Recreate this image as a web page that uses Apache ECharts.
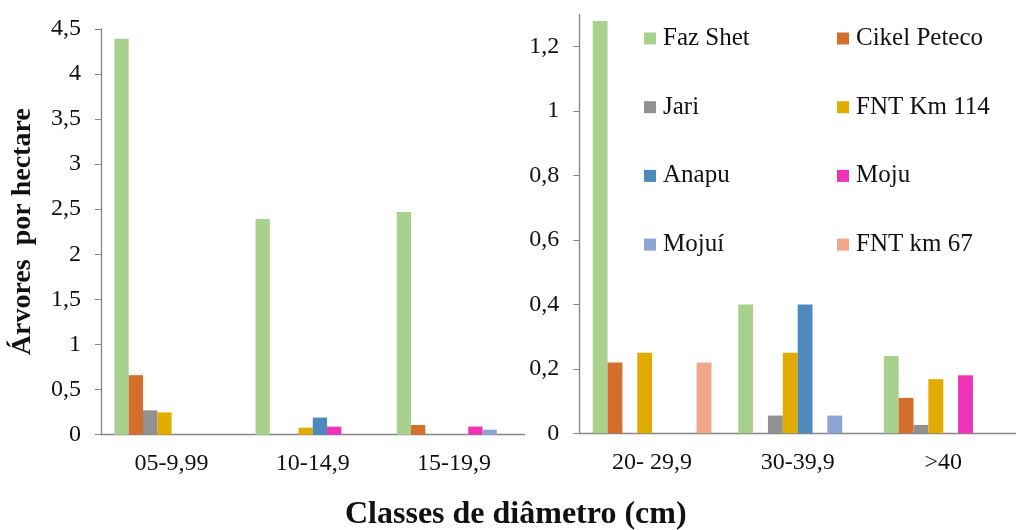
<!DOCTYPE html>
<html>
<head>
<meta charset="utf-8">
<script src="https://cdn.jsdelivr.net/npm/echarts@6/dist/echarts.min.js"></script>
<style>
  html, body { margin: 0; padding: 0; background: #fff; }
  #chart { width: 1016px; height: 530px; }
</style>
</head>
<body>
<div id="chart"></div>
<script>
// classes de diâmetro, split in two panels
var classesLeft = ['05-9,99', '10-14,9', '15-19,9']
var classesRight = ['20- 29,9', '30-39,9', '>40']

var seriesNames = ['Faz Shet', 'Cikel Peteco', 'Jari', 'FNT Km 114', 'Anapu', 'Moju', 'Mojuí', 'FNT km 67']
var seriesColors = ['#A9D18E', '#D46F2B', '#919191', '#E2AB00', '#4E89BD', '#EE33B8', '#8EA4D4', '#F0A78A']

// árvores por hectare, one array per site: [left panel], [right panel]
var fazShet = [[4.39, 2.39, 2.47], [1.28, 0.40, 0.24]]
var cikelPeteco = [[0.66, 0, 0.107], [0.22, 0, 0.11]]
var jari = [[0.27, 0, 0], [0, 0.055, 0.026]]
var fntKm114 = [[0.247, 0.078, 0], [0.25, 0.25, 0.168]]
var anapu = [[0, 0.19, 0], [0, 0.40, 0]]
var moju = [[0, 0.089, 0.09], [0, 0, 0.18]]
var mojui = [[0, 0, 0.055], [0, 0.055, 0]]
var fntKm67 = [[0, 0, 0], [0.22, 0, 0]]

var ticksLeft = [0, 0.5, 1, 1.5, 2, 2.5, 3, 3.5, 4, 4.5]
var ticksRight = [0, 0.2, 0.4, 0.6, 0.8, 1, 1.2]

var allData = [fazShet, cikelPeteco, jari, fntKm114, anapu, moju, mojui, fntKm67]

var fontFam = '"Liberation Serif", "Times New Roman", serif'
var axisGray = '#868686'

function commaFmt(v) {
    return String(v).replace('.', ',')
}

function xAxisFor(idx, labels) {
    return {
        type: 'category',
        gridIndex: idx,
        data: labels,
        axisLine: { lineStyle: { color: axisGray, width: 1.3 } },
        axisTick: { length: 8, lineStyle: { color: axisGray } },
        axisLabel: {
            interval: 0,
            margin: 17,
            color: '#111',
            fontFamily: fontFam,
            fontSize: 24
        }
    }
}

function yAxisFor(idx, max, ticks) {
    return {
        type: 'value',
        gridIndex: idx,
        min: 0,
        max: max,
        splitLine: { show: false },
        axisLine: { show: true, lineStyle: { color: axisGray, width: 1.3 } },
        axisTick: { show: true, length: 6, customValues: ticks, lineStyle: { color: axisGray } },
        axisLabel: {
            customValues: ticks,
            margin: 20,
            color: '#111',
            fontFamily: fontFam,
            fontSize: 24,
            formatter: commaFmt
        }
    }
}

var series = []
seriesNames.forEach(function (name, i) {
    ;[0, 1].forEach(function (panel) {
        series.push({
            name: name,
            type: 'bar',
            xAxisIndex: panel,
            yAxisIndex: panel,
            data: allData[i][panel],
            barGap: 0,
            barCategoryGap: panel === 0 ? '19%' : '18.4%',
            itemStyle: { color: seriesColors[i] },
            emphasis: { disabled: true }
        })
    })
})

function legendCol(left, names) {
    return {
        orient: 'vertical',
        left: left,
        top: 26,
        padding: 0,
        itemGap: 43.7,
        itemWidth: 12,
        itemHeight: 12,
        icon: 'rect',
        data: names,
        textStyle: { color: '#111', fontFamily: fontFam, fontSize: 25, padding: [0, 0, 0, 2] }
    }
}

var chart = echarts.init(document.getElementById('chart'))
chart.setOption({
    animation: false,
    grid: [
        { left: 101, top: 28.8, width: 423.5, height: 405.9 },
        { left: 579.3, top: 14.5, width: 450, height: 418.8 }
    ],
    xAxis: [xAxisFor(0, classesLeft), xAxisFor(1, classesRight)],
    yAxis: [
        Object.assign(yAxisFor(0, 4.5, ticksLeft), {
            name: 'Árvores  por hectare',
            nameLocation: 'middle',
            nameRotate: 90,
            nameGap: 64,
            nameTextStyle: {
                color: '#111',
                fontFamily: fontFam,
                fontSize: 28,
                fontWeight: 'bold'
            }
        }),
        yAxisFor(1, 1.3, ticksRight)
    ],
    title: {
        text: 'Classes de diâmetro (cm)',
        left: 345,
        top: 499,
        padding: 0,
        textStyle: {
            color: '#111',
            fontFamily: fontFam,
            fontSize: 32,
            fontWeight: 'bold'
        }
    },
    legend: [
        legendCol(644, [seriesNames[0], seriesNames[2], seriesNames[4], seriesNames[6]]),
        legendCol(837, [seriesNames[1], seriesNames[3], seriesNames[5], seriesNames[7]])
    ],
    series: series
})
</script>
</body>
</html>
